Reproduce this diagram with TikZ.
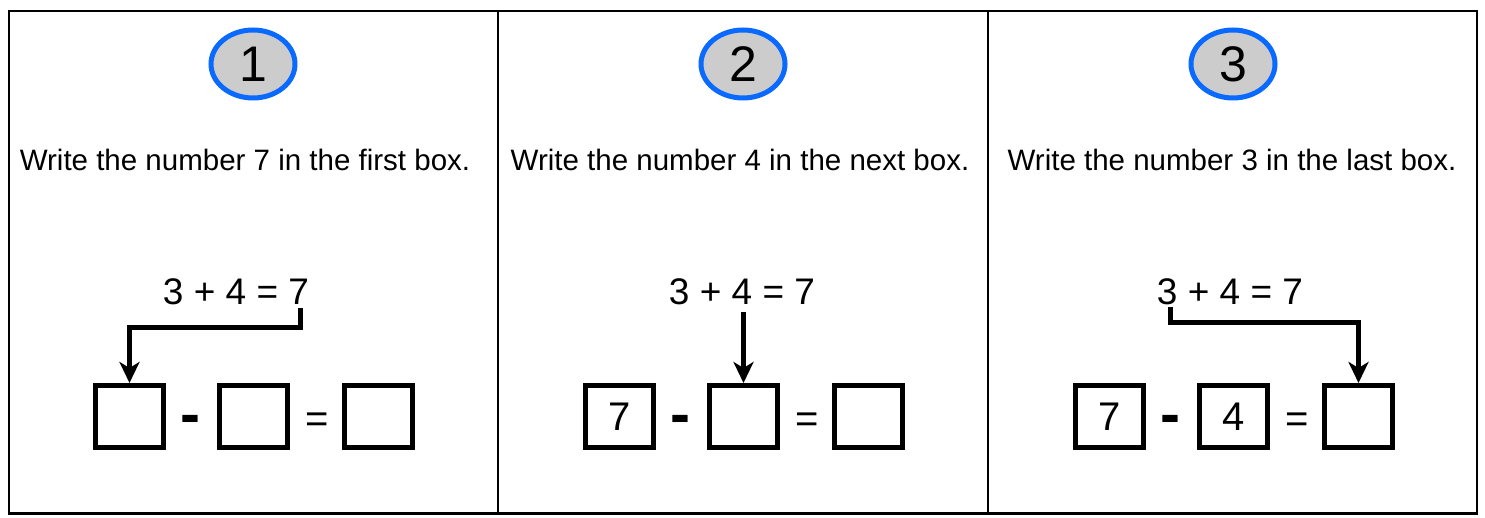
\documentclass[tikz,border=0pt]{standalone}
\usepackage{fontspec}
\setmainfont{Liberation Sans}
\usetikzlibrary{arrows.meta,calc,shapes.geometric}
\definecolor{ringblue}{RGB}{10,105,255}
\definecolor{ringfill}{RGB}{204,204,204}
\begin{document}
\begin{tikzpicture}[x=1pt,y=-1pt,
  panelline/.style={draw=black,line width=2.5pt},
  badge/.style={ellipse,draw=ringblue,fill=ringfill,line width=5pt,minimum width=84pt,minimum height=68pt,inner sep=0pt,font=\fontsize{50pt}{55pt}\selectfont},
  instr/.style={anchor=base,inner sep=0pt,font=\fontsize{29.5pt}{33pt}\selectfont},
  eqn/.style={anchor=base,inner sep=0pt,font=\fontsize{37pt}{40pt}\selectfont},
  ansbox/.style={draw=black,line width=5pt,minimum width=68pt,minimum height=62pt,inner sep=0pt,font=\fontsize{40pt}{44pt}\selectfont},
  minussign/.style={anchor=base,inner sep=0pt,font=\fontsize{60pt}{64pt}\selectfont\bfseries},
  eqsign/.style={anchor=base,inner sep=0pt,font=\fontsize{40pt}{44pt}\selectfont},
  arr/.style={draw=black,line width=5pt,line join=miter,-{Stealth[length=21pt,width=20pt,inset=6pt]}}
]
\useasboundingbox (0,0) rectangle (1485,518);
\draw[panelline] (9,11) rectangle (1477,513.5);
\draw[panelline] (498,11) -- (498,513.5);
\draw[panelline] (988,11) -- (988,513.5);

% badges
\node[badge] (c1) at (253,64) {1};
\node[badge] (c2) at (743,64) {2};
\node[badge] (c3) at (1233,64) {3};

% instructions
\node[instr] (t1) at (245,171) {Write the number 7 in the first box.};
\node[instr] (t2) at (740,171) {Write the number 4 in the next box.};
\node[instr] (t3) at (1232,171) {Write the number 3 in the last box.};

% equations
\node[eqn] (e1) at (236,305) {3 + 4 = 7};
\node[eqn] (e2) at (742,305) {3 + 4 = 7};
\node[eqn] (e3) at (1230,305) {3 + 4 = 7};

% panel 1 boxes
\node[ansbox] (b11) at (129.5,416.5) {};
\node[minussign] (m1) at (190.5,434) {-};
\node[ansbox] (b12) at (253.5,416.5) {};
\node[eqsign] (q1) at (317.5,432) {=};
\node[ansbox] (b13) at (378.5,416.5) {};

% panel 2 boxes
\node[ansbox] (b21) at (619.5,416.5) {7};
\node[minussign] (m2) at (680.5,434) {-};
\node[ansbox] (b22) at (743.5,416.5) {};
\node[eqsign] (q2) at (807.5,432) {=};
\node[ansbox] (b23) at (868.5,416.5) {};

% panel 3 boxes
\node[ansbox] (b31) at (1109.5,416.5) {7};
\node[minussign] (m3) at (1170.5,434) {-};
\node[ansbox] (b32) at (1233.5,416.5) {4};
\node[eqsign] (q3) at (1297.5,432) {=};
\node[ansbox] (b33) at (1358.5,416.5) {};

% arrows
\coordinate (s1) at (300,308);
\coordinate (s2) at (743.5,312);
\coordinate (s3) at (1170,307);
\draw[arr] (s1) -- ++(0,20) -| (b11.north);
\draw[arr] (s2) -- (b22.north);
\draw[arr] (s3) -- ++(0,16) -| (b33.north);
\end{tikzpicture}
\end{document}
